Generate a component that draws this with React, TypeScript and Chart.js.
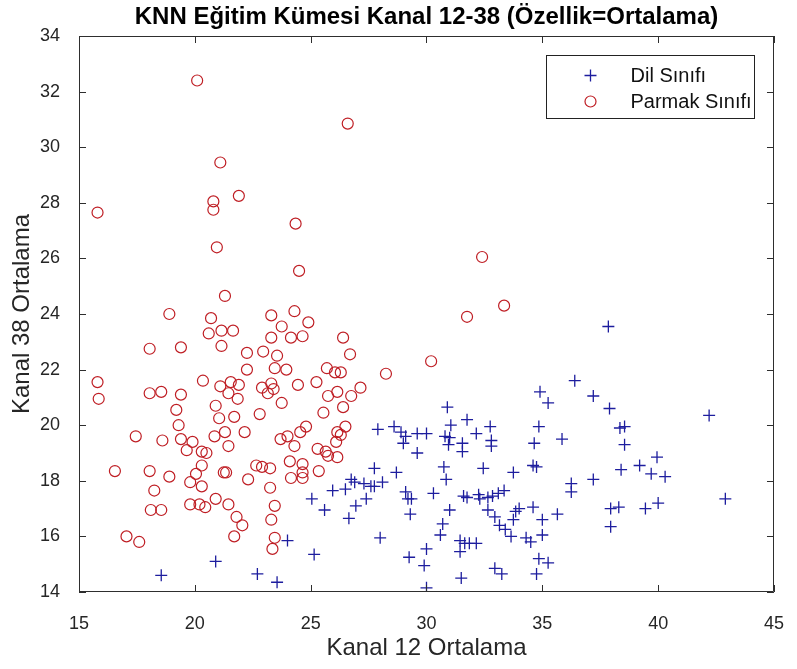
import { useEffect, useRef } from 'react';
import { Chart, registerables } from 'chart.js';

Chart.register(...registerables);

// Kanal 12 / Kanal 38 mean features, tongue class
const dilX = [
  18.55, 20.9, 27.9, 28.6, 28.9, 29.1, 29.6, 30.0, 29.0, 29.6, 27.75, 28.7, 26.75, 26.9, 26.5, 25.95,
  27.3, 27.6, 27.75, 28.1, 27.4, 29.1, 29.2, 29.35, 25.05, 25.6, 26.95, 26.65, 29.3, 28.0, 24.0, 25.15,
  22.7, 23.55, 29.25, 37.85, 36.4, 34.9, 35.25, 37.2, 37.9, 30.9, 31.75, 31.05, 32.75, 32.15, 30.8, 31.0,
  30.95, 31.55, 31.55, 32.8, 32.8, 34.85, 34.65, 35.85, 30.75, 30.85, 32.45, 33.75, 34.6, 34.75, 36.25, 36.25,
  37.2, 37.95, 37.95, 30.3, 31.6, 31.75, 32.25, 32.3, 32.65, 32.85, 33.1, 33.35, 31.0, 30.7, 30.6, 30.0,
  29.9, 30.0, 31.45, 31.65, 31.85, 32.15, 31.45, 31.5, 32.65, 32.95, 33.15, 33.4, 33.65, 33.75, 33.85, 34.0,
  34.6, 35.0, 35.0, 35.65, 34.3, 34.5, 32.95, 33.25, 34.85, 35.25, 34.75, 42.2, 38.35, 38.55, 38.55, 38.4,
  39.2, 39.95, 39.7, 40.3, 42.9, 38.3, 39.45, 40.0,
];
const dilY = [
  14.6, 15.1, 19.85, 19.95, 19.75, 19.6, 19.7, 19.7, 19.35, 19.0, 18.45, 18.3, 18.05, 17.95, 17.7, 17.65,
  17.9, 17.8, 17.8, 17.95, 17.35, 17.6, 17.35, 17.35, 17.35, 16.95, 17.1, 16.65, 16.8, 15.95, 15.85, 15.35,
  14.65, 14.35, 15.25, 23.55, 21.6, 21.2, 20.8, 21.05, 20.6, 20.65, 20.2, 20.0, 19.95, 19.7, 19.6, 19.55,
  19.3, 19.35, 19.05, 19.45, 19.25, 19.95, 19.35, 19.5, 18.5, 18.05, 18.45, 18.3, 18.55, 18.5, 17.9, 17.6,
  18.05, 17.0, 16.35, 17.55, 17.45, 17.4, 17.5, 17.35, 17.4, 17.45, 17.55, 17.65, 16.95, 16.45, 16.05, 15.55,
  14.95, 14.15, 15.85, 15.75, 15.75, 15.75, 15.45, 14.5, 16.95, 16.7, 16.4, 16.25, 16.0, 16.6, 16.9, 17.0,
  17.05, 16.6, 16.05, 16.8, 15.95, 15.8, 14.85, 14.65, 15.2, 15.05, 14.65, 20.35, 19.9, 19.95, 19.3, 18.4,
  18.55, 18.85, 18.25, 18.15, 17.35, 17.05, 17.0, 17.2,
];

// Kanal 12 / Kanal 38 mean features, finger class
const parmakX = [
  20.1, 21.1, 20.8, 20.8, 21.9, 15.8, 20.95, 21.3, 26.6, 24.35, 24.5, 32.4, 33.35, 31.75, 30.2,
  18.9, 20.7, 20.6, 21.15, 21.65, 21.15, 18.05, 19.4, 15.8, 15.85, 20.35, 18.05, 18.55, 19.4, 21.1,
  21.55, 21.45, 21.85, 20.9, 21.05, 21.7, 19.2, 19.3, 17.45, 18.6, 19.4, 19.9, 19.65, 20.3, 20.5,
  20.85, 21.3, 21.45, 16.55, 18.05, 18.9, 20.05, 19.8, 20.3, 20.3, 21.25, 21.35, 18.25, 18.1, 18.55,
  19.8, 20.2, 20.45, 20.9, 21.45, 21.8, 22.05, 17.05, 17.6, 21.7,
  23.3, 24.3, 24.9, 23.75, 23.3, 24.15, 24.65, 26.4, 26.7, 22.25, 22.95, 23.55, 22.25, 23.45, 23.95,
  25.7, 26.05, 26.3, 28.25, 21.9, 22.9, 23.3, 23.15, 23.4, 24.45, 25.25, 23.75, 25.75, 26.15, 26.75,
  27.15, 26.4, 22.8, 25.55, 22.15, 24.8, 24.55, 23.7, 24.0, 24.3, 26.5, 26.15, 26.3, 26.1, 25.3,
  25.65, 26.15, 25.75, 24.1, 24.65, 24.65, 22.65, 22.9, 23.25, 24.15, 24.65, 25.35, 22.3, 23.25, 23.45,
  23.3, 23.45, 23.35,
];
const parmakY = [
  32.4, 29.45, 28.05, 27.75, 28.25, 27.65, 26.4, 24.65, 30.85, 27.25, 25.55, 26.05, 24.3, 23.9, 22.3,
  24.0, 23.85, 23.3, 23.4, 23.4, 22.85, 22.75, 22.8, 21.55, 20.95, 21.6, 21.15, 21.2, 21.1, 21.4,
  21.55, 21.15, 20.95, 20.7, 20.25, 20.3, 20.55, 20.0, 19.6, 19.45, 19.5, 19.4, 19.1, 19.05, 19.0,
  19.6, 19.75, 19.25, 18.35, 18.35, 18.15, 18.25, 17.95, 17.8, 18.55, 18.3, 18.3, 17.65, 16.95, 16.95,
  17.15, 17.15, 17.05, 17.35, 17.15, 16.7, 16.4, 16.0, 15.8, 16.0,
  23.95, 24.1, 23.7, 23.55, 23.15, 23.15, 23.2, 23.15, 22.55, 22.6, 22.65, 22.5, 22.0, 22.05, 22.0,
  22.05, 21.9, 21.9, 21.85, 21.45, 21.35, 21.5, 21.15, 21.3, 21.45, 21.55, 20.8, 21.05, 21.2, 21.05,
  21.35, 20.65, 20.4, 20.45, 19.75, 19.95, 19.75, 19.5, 19.6, 19.25, 19.95, 19.75, 19.65, 19.4, 19.15,
  19.05, 18.85, 18.9, 18.7, 18.6, 18.3, 18.55, 18.5, 18.45, 18.1, 18.1, 18.35, 18.05, 17.75, 17.1,
  16.6, 15.95, 15.55,
];

const xTickValues = [15, 20, 25, 30, 35, 40, 45];
const yTickValues = [14, 16, 18, 20, 22, 24, 26, 28, 30, 32, 34];

const seriesNames = ['Dil Sınıfı', 'Parmak Sınıfı'];
const chartTitle = 'KNN Eğitim Kümesi Kanal 12-38 (Özellik=Ortalama)';
const xTitle = 'Kanal 12 Ortalama';
const yTitle = 'Kanal 38 Ortalama';

const FONT = "'Liberation Sans', Arial, Helvetica, sans-serif";
const AXIS_COLOR = '#2e2e2e';
const BLUE = '#1d1d9e';
const RED = '#bf1e24';

// Boxed axes with inward tick marks on all four sides
const boxAxesPlugin = {
  id: 'boxAxes',
  afterDatasetsDraw(chart: any) {
    const { ctx, chartArea } = chart;
    const { left, right, top, bottom } = chartArea;
    const xs = chart.scales.x;
    const ys = chart.scales.y;
    const len = 7;
    ctx.save();
    ctx.strokeStyle = AXIS_COLOR;
    ctx.lineWidth = 1;
    ctx.beginPath();
    ctx.rect(Math.round(left) + 0.5, Math.round(top) + 0.5, Math.round(right - left) - 1, Math.round(bottom - top) - 1);
    xTickValues.forEach((v) => {
      const px = Math.round(xs.getPixelForValue(v)) + 0.5;
      ctx.moveTo(px, bottom);
      ctx.lineTo(px, bottom - len);
      ctx.moveTo(px, top);
      ctx.lineTo(px, top + len);
    });
    yTickValues.forEach((v) => {
      const py = Math.round(ys.getPixelForValue(v)) + 0.5;
      ctx.moveTo(left, py);
      ctx.lineTo(left + len, py);
      ctx.moveTo(right, py);
      ctx.lineTo(right - len, py);
    });
    ctx.stroke();
    ctx.restore();
  },
};

// Legend box in the upper-right corner of the plot area
const boxLegendPlugin = {
  id: 'boxLegend',
  afterDraw(chart: any) {
    const { ctx, chartArea } = chart;
    const w = 208;
    const h = 63;
    const bx = Math.round(chartArea.right - 228) + 0.5;
    const by = Math.round(chartArea.top + 19) + 0.5;
    ctx.save();
    ctx.fillStyle = '#ffffff';
    ctx.fillRect(bx, by, w, h);
    ctx.strokeStyle = '#222222';
    ctx.lineWidth = 1;
    ctx.strokeRect(bx, by, w, h);
    ctx.font = `20px ${FONT}`;
    ctx.textBaseline = 'middle';
    ctx.textAlign = 'left';
    chart.data.datasets.forEach((ds: any, i: number) => {
      const cy = by + 20 + i * 26;
      const mx = bx + 44;
      ctx.strokeStyle = ds.borderColor;
      ctx.lineWidth = ds.borderWidth;
      ctx.beginPath();
      if (ds.pointStyle === 'cross') {
        const r = ds.pointRadius;
        ctx.moveTo(mx - r, cy);
        ctx.lineTo(mx + r, cy);
        ctx.moveTo(mx, cy - r);
        ctx.lineTo(mx, cy + r);
      } else {
        ctx.arc(mx, cy, ds.pointRadius, 0, Math.PI * 2);
      }
      ctx.stroke();
      ctx.fillStyle = '#111111';
      ctx.fillText(ds.label, bx + 84, cy + 1);
    });
    ctx.restore();
  },
};

export default function App() {
  const canvasRef = useRef<HTMLCanvasElement | null>(null);

  useEffect(() => {
    const canvas = canvasRef.current;
    if (!canvas) return;

    const dilPoints = dilX.map((x, i) => ({ x, y: dilY[i] }));
    const parmakPoints = parmakX.map((x, i) => ({ x, y: parmakY[i] }));

    const chart = new Chart(canvas, {
      type: 'scatter',
      data: {
        datasets: [
          {
            label: seriesNames[0],
            data: dilPoints,
            pointStyle: 'cross',
            pointRadius: 6,
            pointHoverRadius: 6,
            borderColor: BLUE,
            backgroundColor: BLUE,
            borderWidth: 1.3,
          },
          {
            label: seriesNames[1],
            data: parmakPoints,
            pointStyle: 'circle',
            pointRadius: 5.5,
            pointHoverRadius: 5.5,
            borderColor: RED,
            backgroundColor: 'rgba(0,0,0,0)',
            borderWidth: 1.2,
          },
        ],
      } as any,
      options: {
        responsive: false,
        animation: false,
        devicePixelRatio: 1,
        events: [],
        layout: { padding: { top: 0, right: 17, bottom: 0, left: 0 } },
        plugins: {
          legend: { display: false },
          tooltip: { enabled: false },
          title: {
            display: true,
            text: chartTitle,
            fullSize: false,
            color: '#000000',
            font: { family: FONT, size: 24, weight: 'bold', lineHeight: 1.2 },
            padding: { top: 3, bottom: 4.2 },
          },
        },
        scales: {
          x: {
            type: 'linear',
            min: 15,
            max: 45,
            afterFit: (scale: any) => {
              scale.height = 77;
            },
            afterBuildTicks: (scale: any) => {
              scale.ticks = xTickValues.map((v) => ({ value: v }));
            },
            ticks: {
              maxRotation: 0,
              autoSkip: false,
              padding: 13,
              color: '#262626',
              font: { family: FONT, size: 18 },
            },
            grid: { display: false },
            border: { display: false },
            title: {
              display: true,
              text: xTitle,
              color: '#262626',
              font: { family: FONT, size: 24, lineHeight: 1.2 },
              padding: { top: 0, bottom: 6 },
            },
          },
          y: {
            type: 'linear',
            min: 14,
            max: 34,
            afterFit: (scale: any) => {
              scale.width = 79;
            },
            afterBuildTicks: (scale: any) => {
              scale.ticks = yTickValues.map((v) => ({ value: v }));
            },
            ticks: {
              autoSkip: false,
              padding: 11,
              color: '#262626',
              font: { family: FONT, size: 18 },
            },
            grid: { display: false },
            border: { display: false },
            title: {
              display: true,
              text: yTitle,
              color: '#262626',
              font: { family: FONT, size: 24, lineHeight: 1.2 },
              padding: { top: 8, bottom: 0 },
            },
          },
        },
      },
      plugins: [boxAxesPlugin, boxLegendPlugin],
    });

    return () => {
      chart.destroy();
    };
  }, []);

  return (
    <div style={{ position: 'fixed', left: 0, top: 0, width: 797, height: 669, background: '#ffffff' }}>
      <canvas ref={canvasRef} width={797} height={669} style={{ display: 'block' }} />
    </div>
  );
}
